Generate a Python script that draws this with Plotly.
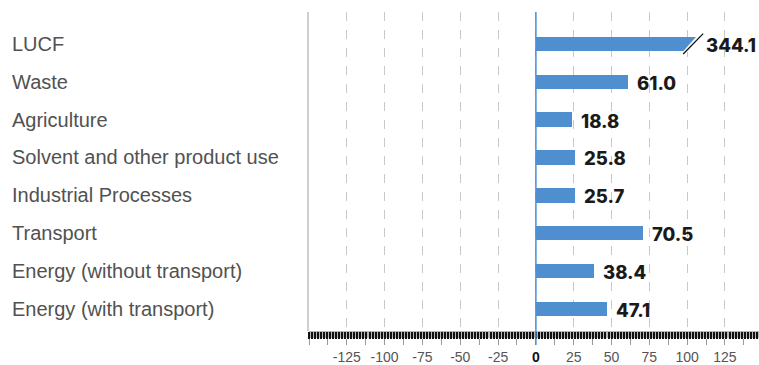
import plotly.graph_objects as go

categories = ["LUCF", "Waste", "Agriculture", "Solvent and other product use",
              "Industrial Processes", "Transport", "Energy (without transport)",
              "Energy (with transport)"]
# bar lengths as drawn in the picture, and the value labels printed beside them
bar_values = [344.1, 61.0, 23.7, 25.8, 25.7, 70.5, 38.4, 47.1]
value_labels = ["344.1", "61.0", "18.8", "25.8", "25.7", "70.5", "38.4", "47.1"]
tick_vals = [-150, -125, -100, -75, -50, -25, 0, 25, 50, 75, 100, 125]
tick_text = ["", "-125", "-100", "-75", "-50", "-25",
             "<span style='color:#111'><b>0</b></span>", "25", "50", "75", "100", "125"]

CAP = 102.0          # axis break for values beyond the scale
X_RANGE = [-150, 147.5]
BAR_COLOR = "#4f8fd0"
H = 0.19             # half bar thickness (category units)

n = len(categories)
ypos = [n - 1 - i for i in range(n)]
shown = [v if v <= CAP else CAP + 4.6 for v in bar_values]

fig = go.Figure()
fig.add_trace(go.Bar(x=shown, y=ypos, orientation="h", width=2 * H,
                     marker=dict(color=BAR_COLOR, line=dict(width=0)),
                     hoverinfo="skip", showlegend=False))

for v, y in zip(bar_values, ypos):
    if v > CAP:
        # cut the bar diagonally
        fig.add_trace(go.Scatter(
            x=[CAP - 4.9, CAP + 6, CAP + 6, CAP + 4.6, CAP - 4.9],
            y=[y - H - 0.02, y - H - 0.02, y + H + 0.02, y + H + 0.02, y - H - 0.02],
            fill="toself", fillcolor="white", mode="lines",
            line=dict(width=0, color="white"), hoverinfo="skip", showlegend=False))
        fig.add_trace(go.Scatter(
            x=[CAP + 2 - 6.6, CAP + 2 + 6.6], y=[y - 0.27, y + 0.27],
            mode="lines", line=dict(color="#111", width=1.3),
            hoverinfo="skip", showlegend=False))

# dense band axis (overlay)
fig.add_trace(go.Scatter(x=[0], y=[0], xaxis="x2", mode="markers",
                         marker=dict(opacity=0), hoverinfo="skip", showlegend=False))

for v, s, lab, y in zip(bar_values, shown, value_labels, ypos):
    capped = v > CAP
    fig.add_annotation(x=CAP if capped else s, y=y, xref="x", yref="y",
                       text=lab, showarrow=False, xanchor="left",
                       xshift=14 if capped else 7, yshift=-1,
                       font=dict(family="Inter", size=18.5, color="#1a1a1a", weight=800))

for c, y in zip(categories, ypos):
    fig.add_annotation(x=-299 / 450, y=y, xref="paper", yref="y", text=c,
                       showarrow=False, xanchor="left", yshift=0,
                       font=dict(family="Liberation Sans", size=20, color="#515151"))

dom_bottom = 7 / 326
fig.update_layout(
    width=759, height=365,
    margin=dict(l=309, r=0, t=12, b=27),
    plot_bgcolor="white", paper_bgcolor="white",
    bargap=0,
    xaxis=dict(range=X_RANGE, anchor="free", position=0,
               tickmode="array", tickvals=tick_vals, ticktext=tick_text,
               ticks="outside", ticklen=6, tickcolor="#999", tickwidth=1,
               minor=dict(dtick=12.5, ticks="outside", ticklen=6, tickcolor="#999",
                          showgrid=False),
               showgrid=True, gridcolor="#c8c8c8", griddash="dash", gridwidth=1,
               zeroline=False, showline=False,
               tickfont=dict(family="Liberation Sans", size=14, color="#555"),
               fixedrange=True),
    xaxis2=dict(range=X_RANGE, overlaying="x", anchor="free", position=dom_bottom,
                side="bottom", tickmode="linear", tick0=0, dtick=2,
                ticks="outside", ticklen=7, tickwidth=2, tickcolor="#111",
                showticklabels=False, showgrid=False, zeroline=False, showline=False),
    yaxis=dict(range=[-0.58, n - 1 + 0.84], domain=[dom_bottom, 1],
               showticklabels=False, showgrid=False, zeroline=False,
               showline=True, linecolor="#cfcfcf", linewidth=2, ticks=""),
)

fig.add_shape(type="rect", xref="paper", yref="paper", x0=0, x1=1,
              y0=0, y1=dom_bottom, fillcolor="#b8b8b8", line=dict(width=0),
              layer="below")
fig.add_shape(type="line", xref="x", yref="paper", x0=0, x1=0,
              y0=-7 / 326, y1=1, line=dict(color="#4a90d9", width=1.5),
              layer="above")

fig.write_html("out.html", config={"displayModeBar": False},
               post_script="document.body.style.margin='0';")
